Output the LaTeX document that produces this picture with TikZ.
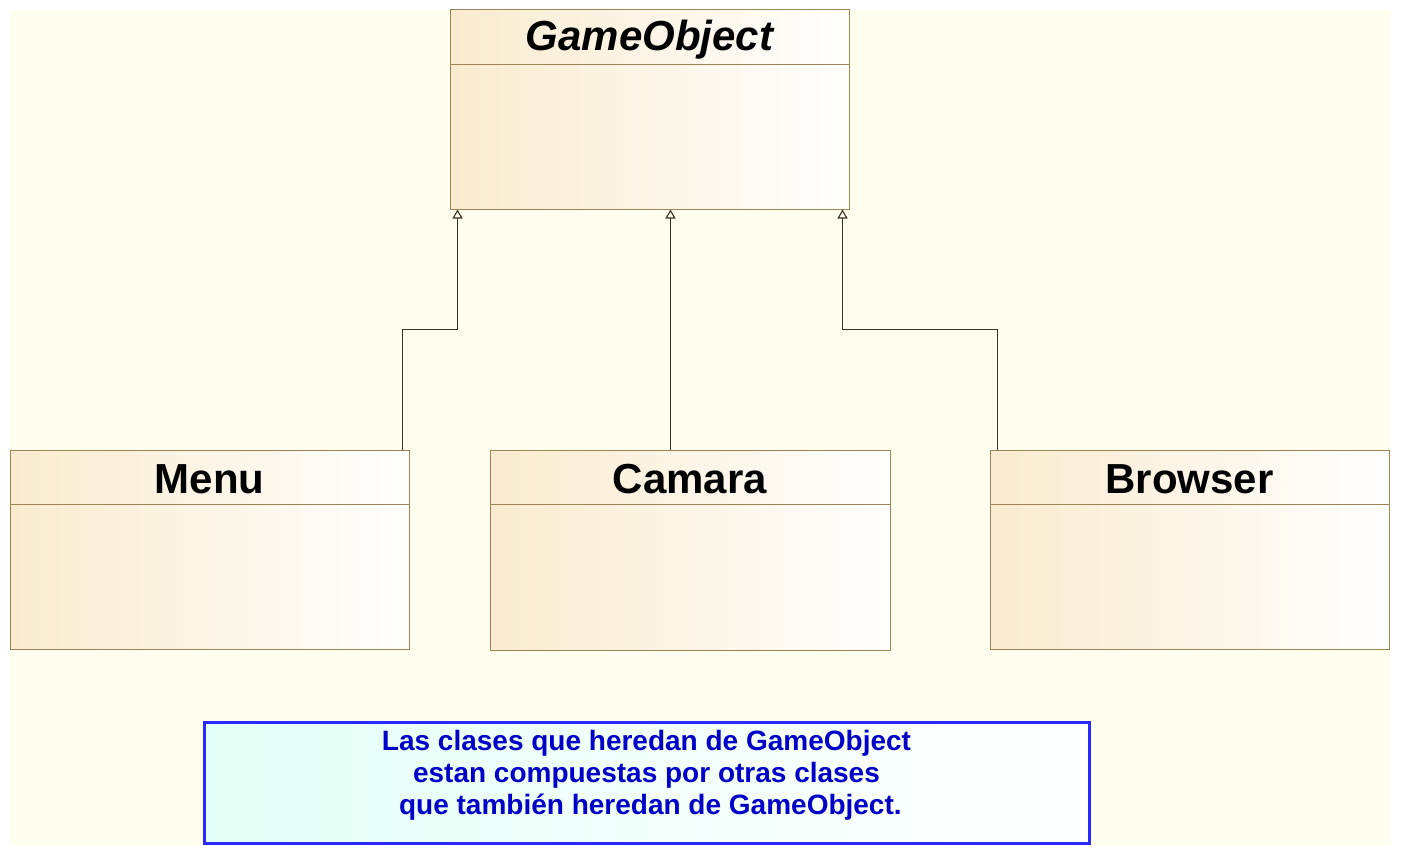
\documentclass[tikz,border=0pt]{standalone}
\usepackage{fontspec}
\setmainfont{Liberation Sans}
\usepackage{tikz}
\usetikzlibrary{arrows.meta,calc,positioning}
\definecolor{umlbg}{RGB}{254,254,238}
\definecolor{umlbeige}{RGB}{249,235,207}
\definecolor{umledge}{RGB}{156,133,82}
\definecolor{umlline}{RGB}{60,48,32}
\definecolor{notefill}{RGB}{228,255,247}
\definecolor{noteedge}{RGB}{40,40,255}
\definecolor{notetext}{RGB}{0,0,200}

\begin{document}
\begin{tikzpicture}[x=1pt,y=-1pt,>={Triangle[open,width=10pt,length=9pt]},
    umlclass/.style={draw=umledge,line width=1pt,left color=umlbeige,right color=white,minimum width=399pt,minimum height=199pt,inner sep=0pt},
    umlhead/.style={anchor=north,minimum height=55pt,inner sep=0pt,yshift=-2pt,font=\fontsize{42}{48}\selectfont\bfseries},
    inherit/.style={->,draw=umlline,line width=1.1pt}]
    \useasboundingbox (0,0) rectangle (1401,856);
    \fill[umlbg] (10,10) rectangle (1391,845);
    % classes
    \node[umlclass] (gobj) at (649.5,109.5) {};
    \node[umlhead,font=\fontsize{42}{48}\selectfont\bfseries\itshape] (gobjhead) at (gobj.north) {GameObject};
    \node[umlclass] (menu) at (209.5,549.5) {};
    \node[umlhead] (menuhead) at (menu.north) {Menu};
    \node[umlclass,minimum width=400pt,minimum height=200pt] (camara) at (690,550) {};
    \node[umlhead] (camarahead) at (camara.north) {Camara};
    \node[umlclass] (browser) at (1189.5,549.5) {};
    \node[umlhead] (browserhead) at (browser.north) {Browser};
    \foreach \c in {gobj,menu,camara,browser}
      \draw[umledge,line width=1pt] (\c.west |- \c head.south) ++(0,-2) -- ($(\c.east |- \c head.south)+(0,-2)$);
    % inheritance
    \draw[inherit] ([xshift=-7pt]menu.north east) -- ++(0,-120) -| ([xshift=8pt]gobj.south west);
    \draw[inherit] ([xshift=-19.5pt]camara.north) -- ([xshift=-19.5pt]camara.north |- gobj.south);
    \draw[inherit] ([xshift=8pt]browser.north west) -- ++(0,-120) -| ([xshift=-7pt]gobj.south east);
    % note
    \node[draw=noteedge,line width=3pt,left color=notefill,right color=white,minimum width=885pt,minimum height=121pt,inner sep=0pt] (note) at (646.5,782.5) {};
    \node[anchor=north,align=center,inner sep=0pt,text=notetext,font=\fontsize{28}{32}\selectfont\bfseries] (notetxt) at ([yshift=-10pt]note.north)
      {Las clases que heredan de GameObject\\estan compuestas por otras clases\\\ que también heredan de GameObject.};
\end{tikzpicture}
\end{document}
